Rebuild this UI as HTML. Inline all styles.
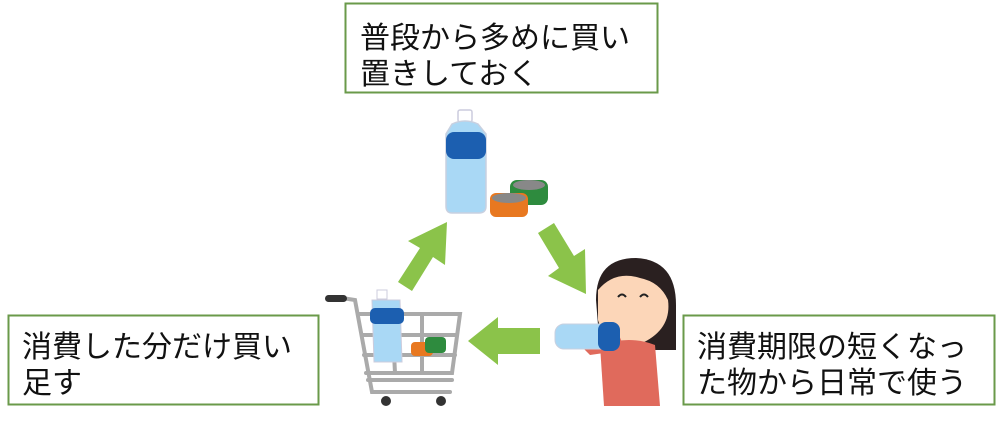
<!DOCTYPE html>
<html><head><meta charset="utf-8"><style>
html,body{margin:0;padding:0;background:#fff;}
svg{display:block}
text{font-family:"Liberation Sans","Noto Sans CJK JP",sans-serif;font-size:30px;fill:#111;}
</style></head><body>
<svg width="999" height="441" viewBox="0 0 999 441" xmlns="http://www.w3.org/2000/svg">
<rect x="345.5" y="3.5" width="312" height="89" fill="#fff" stroke="#6a9a4a" stroke-width="2"/>
<text x="360" y="48">普段から多めに買い</text>
<text x="360" y="84">置きしておく</text>
<rect x="8.5" y="315.5" width="310" height="89" fill="#fff" stroke="#6a9a4a" stroke-width="2"/>
<text x="22" y="357">消費した分だけ買い</text>
<text x="22" y="393">足す</text>
<rect x="683.5" y="315.5" width="311" height="89" fill="#fff" stroke="#6a9a4a" stroke-width="2"/>
<text x="697" y="357">消費期限の短くなっ</text>
<text x="697" y="393">た物から日常で使う</text>

<g fill="#8bc34a">
<polygon points="398,282 420,248 408,241 447,222 445,265 433,257 412,291"/>
<polygon points="538,233 554,223 574,256 585,249 586,294 548,276 559,268"/>
<polygon points="540,328 540,354 498,354 498,365 468,341 498,317 498,328"/>
</g>

<rect x="458" y="110" width="14" height="12" rx="2" fill="#fff" stroke="#ccd" stroke-width="1.5"/>
<path d="M452,124 Q465,118 478,124 L486,134 L486,206 Q486,213 479,213 L452,213 Q446,213 446,206 L446,134 Z" fill="#a9d8f5" stroke="#c8d0e0" stroke-width="1.5"/>
<rect x="446" y="132" width="40" height="27" rx="8" fill="#1c5fb0"/>
<rect x="510" y="180" width="38" height="25" rx="7" fill="#2e8b3e"/>
<ellipse cx="529" cy="185" rx="16" ry="5" fill="#888"/>
<rect x="490" y="193" width="38" height="24" rx="6" fill="#e87820"/>
<ellipse cx="509" cy="198" rx="17" ry="5" fill="#888"/>

<g fill="none" stroke="#aaa" stroke-width="4" stroke-linecap="round">
<path d="M342,298 L355,300 L372,392 L450,392"/>
<path d="M358,314 L460,314 L452,373 L366,373"/>
<path d="M362,335 L457,335 M364,355 L455,355"/>
<path d="M392,314 L395,373 M422,314 L422,373"/>
<path d="M368,380 L452,380"/>
</g>
<rect x="325" y="295" width="22" height="7" rx="3.5" fill="#333"/>
<circle cx="386" cy="401" r="5" fill="#333"/>
<circle cx="441" cy="401" r="5" fill="#333"/>
<rect x="377" y="290" width="10" height="9" fill="#fff" stroke="#ccd"/>
<path d="M372,300 L400,300 L402,362 L374,362 Z" fill="#a9d8f5" stroke="#ccd"/>
<rect x="370" y="308" width="34" height="16" rx="5" fill="#1c5fb0"/>
<rect x="411" y="342" width="22" height="14" rx="4" fill="#e87820"/>
<rect x="425" y="337" width="21" height="16" rx="4" fill="#2e8b3e"/>

<path d="M596,300 Q596,258 636,258 Q676,260 676,305 L676,350 L600,350 Z" fill="#2a2020"/>
<path d="M598,290 Q615,270 640,278 Q660,282 668,300 Q672,330 640,344 Q605,345 598,320 Z" fill="#fcd6b8"/>
<path d="M600,345 Q630,335 655,345 L660,406 L604,406 Z" fill="#e06a5c"/>
<path d="M570,335 L615,325 L625,350 L590,355 Z" fill="#e06a5c"/>
<path d="M618,297 q4,-5 8,0 M640,297 q4,-5 8,0" stroke="#222" stroke-width="2" fill="none"/>
<rect x="555" y="324" width="55" height="25" rx="9" fill="#a9d8f5" stroke="#c8d0e0"/>
<rect x="598" y="322" width="22" height="29" rx="8" fill="#1c5fb0"/>
</svg>
</body></html>
